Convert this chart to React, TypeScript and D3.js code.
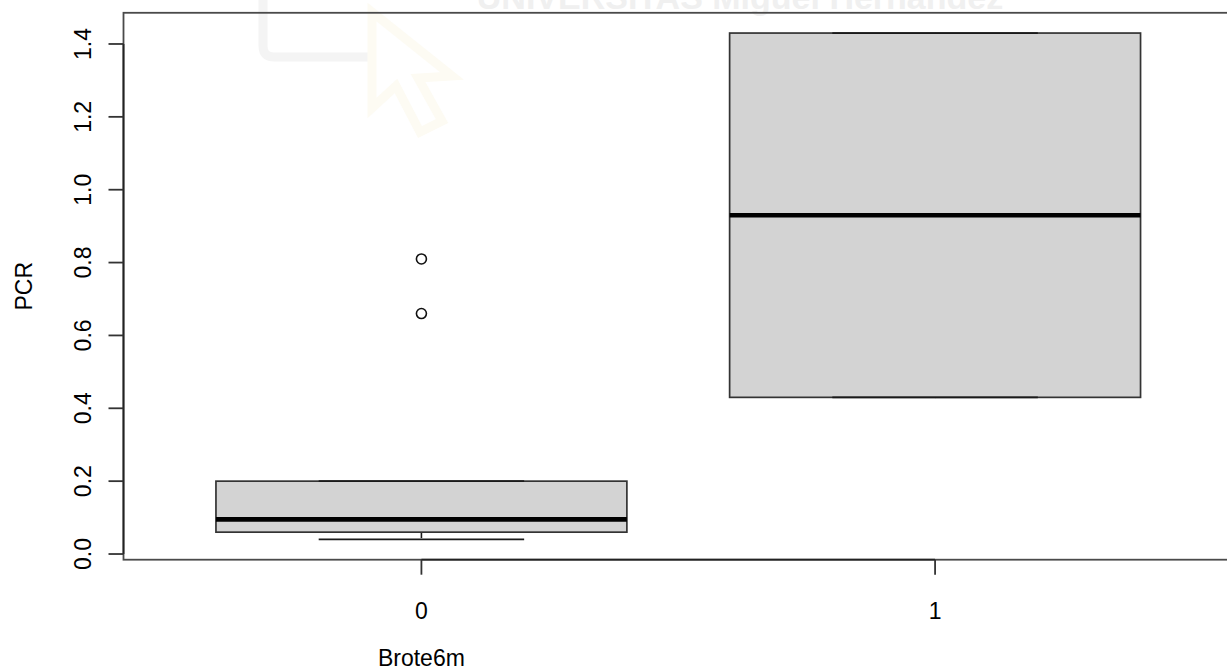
import React from "react";
import * as d3 from "d3";

// Box plot of PCR by Brote6m group
const groups = ["0", "1"];
const whiskerLow = [0.04, 0.43];
const q1 = [0.06, 0.43];
const medians = [0.095, 0.93];
const q3 = [0.2, 1.43];
const whiskerHigh = [0.2, 1.43];
const outliers: number[][] = [[0.81, 0.66], []];
const yTicks = [0, 0.2, 0.4, 0.6, 0.8, 1.0, 1.2, 1.4];

const W = 1227;
const H = 670;
const FONT = "'Liberation Sans', Arial, Helvetica, sans-serif";

export default function App() {
  // plot region
  const left = 123.5;
  const right = 1233;
  const top = 12.8;
  const bottom = 559.7;

  const allVals = [...whiskerLow, ...whiskerHigh, ...outliers.flat()];
  const yMin = d3.min(allVals) as number;
  const yMax = d3.max(allVals) as number;
  const pad = (yMax - yMin) * 0.04;
  const y = d3.scaleLinear().domain([yMin - pad, yMax + pad]).range([bottom, top]);

  const n = groups.length;
  const xPad = n * 0.04;
  const x = d3
    .scaleLinear()
    .domain([0.5 - xPad, n + 0.5 + xPad])
    .range([left, right]);

  const halfBox = 0.4;
  const halfStaple = 0.2;
  const fs = 23;
  const lineCol = "#1a1a1a";

  return (
    <svg
      width={W}
      height={H}
      style={{ position: "absolute", left: 0, top: 0, display: "block", background: "#fff" }}
    >
      <rect x={0} y={0} width={W} height={H} fill="#fff" />

      {/* faint watermark */}
      <g>
        <path
          d="M263,0 L263,46 Q263,57 274,57 L368,57"
          fill="none"
          stroke="#f4f4f4"
          strokeWidth={9}
        />
        <path
          d="M372,12 L372,108 L396,86 L420,132 L442,121 L418,78 L452,76 Z"
          fill="none"
          stroke="#fdfbf3"
          strokeWidth={9}
        />
        <text
          x={740}
          y={9}
          textAnchor="middle"
          fontFamily={FONT}
          fontWeight="bold"
          fontSize={34}
          fill="#f0f0f0"
        >
          UNIVERSITAS Miguel Hernández
        </text>
      </g>

      {/* frame */}
      <rect
        x={left}
        y={top}
        width={right - left}
        height={bottom - top}
        fill="none"
        stroke="#4a4a4a"
        strokeWidth={1.8}
      />

      {/* boxes */}
      {groups.map((g, i) => {
        const cx = x(i + 1);
        const bx0 = x(i + 1 - halfBox);
        const bx1 = x(i + 1 + halfBox);
        const sx0 = x(i + 1 - halfStaple);
        const sx1 = x(i + 1 + halfStaple);
        return (
          <g key={g}>
            {/* whiskers */}
            <line x1={cx} x2={cx} y1={y(q1[i])} y2={y(whiskerLow[i])} stroke={lineCol} strokeWidth={1.6} strokeDasharray="6,6" />
            <line x1={cx} x2={cx} y1={y(q3[i])} y2={y(whiskerHigh[i])} stroke={lineCol} strokeWidth={1.6} strokeDasharray="6,6" />
            <rect
              x={bx0}
              y={y(q3[i])}
              width={bx1 - bx0}
              height={y(q1[i]) - y(q3[i])}
              fill="#d3d3d3"
              stroke="#333"
              strokeWidth={1.7}
            />
            {/* staples */}
            <line x1={sx0} x2={sx1} y1={y(whiskerLow[i])} y2={y(whiskerLow[i])} stroke={lineCol} strokeWidth={1.7} />
            <line x1={sx0} x2={sx1} y1={y(whiskerHigh[i])} y2={y(whiskerHigh[i])} stroke={lineCol} strokeWidth={1.7} />
            {/* median */}
            <line x1={bx0} x2={bx1} y1={y(medians[i])} y2={y(medians[i])} stroke="#000" strokeWidth={4.6} />
            {/* outliers */}
            {outliers[i].map((v, j) => (
              <circle key={j} cx={cx} cy={y(v)} r={5} fill="none" stroke="#111" strokeWidth={1.6} />
            ))}
          </g>
        );
      })}

      {/* y axis */}
      <line x1={left} x2={left} y1={y(yTicks[0])} y2={y(yTicks[yTicks.length - 1])} stroke="#222" strokeWidth={1.8} />
      {yTicks.map((t) => (
        <g key={t}>
          <line x1={left - 15} x2={left} y1={y(t)} y2={y(t)} stroke="#333" strokeWidth={1.8} />
          <text
            x={0}
            y={0}
            transform={`translate(${left - 33},${y(t)}) rotate(-90)`}
            textAnchor="middle"
            fontFamily={FONT}
            fontSize={fs}
            fill="#000"
          >
            {d3.format(".1f")(t)}
          </text>
        </g>
      ))}

      {/* x axis */}
      <line x1={x(1)} x2={x(n)} y1={bottom} y2={bottom} stroke="#222" strokeWidth={1.8} />
      {groups.map((g, i) => (
        <g key={g}>
          <line x1={x(i + 1)} x2={x(i + 1)} y1={bottom} y2={bottom + 15} stroke="#333" strokeWidth={1.8} />
          <text x={x(i + 1)} y={bottom + 59} textAnchor="middle" fontFamily={FONT} fontSize={fs} fill="#000">
            {g}
          </text>
        </g>
      ))}

      {/* axis titles */}
      <text x={x(1)} y={bottom + 106} textAnchor="middle" fontFamily={FONT} fontSize={fs} fill="#000">
        Brote6m
      </text>
      <text
        x={0}
        y={0}
        transform={`translate(32,${(top + bottom) / 2}) rotate(-90)`}
        textAnchor="middle"
        fontFamily={FONT}
        fontSize={fs}
        fill="#000"
      >
        PCR
      </text>
    </svg>
  );
}
